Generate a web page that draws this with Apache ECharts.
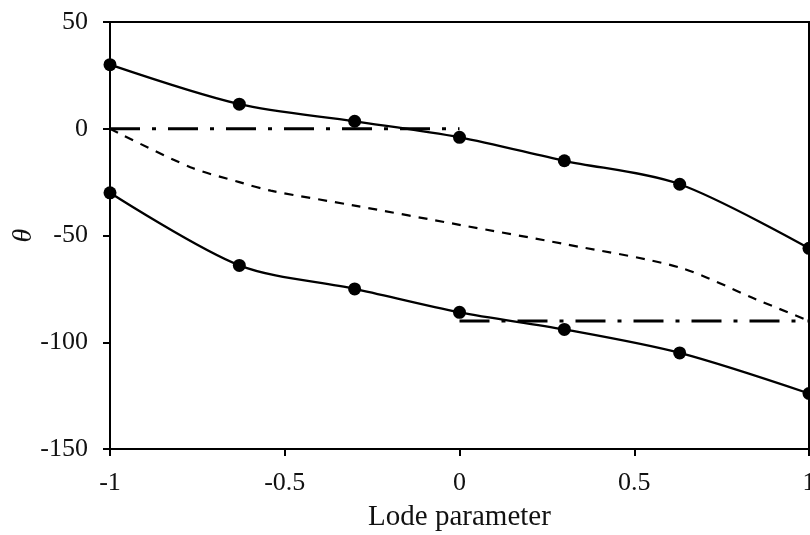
<!DOCTYPE html>
<html>
<head>
<meta charset="utf-8">
<script src="https://cdn.jsdelivr.net/npm/echarts@6/dist/echarts.min.js"></script>
<style>html,body{margin:0;padding:0;background:#fff}#c{width:810px;height:535px}</style>
</head>
<body>
<div id="c"></div>
<script>
const lodeX = [-1, -0.63, -0.3, 0, 0.3, 0.63, 1];
const upperTheta = [30, 11.5, 3.5, -4, -15, -26, -56];
const lowerTheta = [-30, -64, -75, -86, -94, -105, -124];
const dashedX = [-1, -0.77, -0.63, -0.54, -0.3, 0, 0.3, 0.63, 0.85, 1];
const dashedTheta = [0, -18, -25, -29, -36, -45, -54, -65, -80, -90];
const dashDotLeftX = [-1, 0];
const dashDotLeftTheta = [0, 0];
const dashDotRightX = [0, 1];
const dashDotRightTheta = [-90, -90];
const xTicks = [-1, -0.5, 0, 0.5, 1];
const yTicks = [-150, -100, -50, 0, 50];

const pairs = (xs, ys) => xs.map((x, i) => [x, ys[i]]);
const font = '"Liberation Serif", "DejaVu Serif", serif';

const chart = echarts.init(document.getElementById('c'), null, {renderer: 'canvas'});
chart.setOption({
  animation: false,
  backgroundColor: '#fff',
  grid: {left: 110, top: 22, right: 1, bottom: 86, containLabel: false, outerBoundsMode: 'none',
         show: true, borderColor: '#000', borderWidth: 2},
  xAxis: {
    type: 'value', min: xTicks[0], max: xTicks[xTicks.length - 1], interval: 0.5,
    name: 'Lode parameter', nameLocation: 'middle', nameGap: 54, nameMoveOverlap: false,
    nameTextStyle: {fontFamily: font, fontSize: 29, color: '#111'},
    axisLine: {onZero: false, lineStyle: {color: '#000', width: 2}},
    axisTick: {show: true, inside: false, length: 7, lineStyle: {color: '#000', width: 2}},
    axisLabel: {fontFamily: font, fontSize: 26, color: '#111', margin: 21, formatter: v => String(v)},
    splitLine: {show: false}
  },
  yAxis: {
    type: 'value', min: yTicks[0], max: yTicks[yTicks.length - 1], interval: 50,
    name: 'θ', nameLocation: 'middle', nameGap: 72, nameRotate: 90, nameMoveOverlap: false,
    nameTextStyle: {fontFamily: font, fontSize: 28, fontStyle: 'italic', color: '#111'},
    axisLine: {onZero: false, lineStyle: {color: '#000', width: 2}},
    axisTick: {show: true, inside: false, length: 7, lineStyle: {color: '#000', width: 2}},
    axisLabel: {fontFamily: font, fontSize: 26, color: '#111', margin: 22},
    splitLine: {show: false}
  },
  series: [
    {type: 'line', data: pairs(lodeX, upperTheta), smooth: 0.3, symbol: 'circle', symbolSize: 13,
     itemStyle: {color: '#000'}, lineStyle: {color: '#000', width: 2.3}, z: 5},
    {type: 'line', data: pairs(lodeX, lowerTheta), smooth: 0.3, symbol: 'circle', symbolSize: 13,
     itemStyle: {color: '#000'}, lineStyle: {color: '#000', width: 2.3}, z: 5},
    {type: 'line', data: pairs(dashedX, dashedTheta), smooth: 0.3, symbol: 'none',
     lineStyle: {color: '#000', width: 2.2, type: [9, 8]}},
    {type: 'line', data: pairs(dashDotLeftX, dashDotLeftTheta), symbol: 'none',
     lineStyle: {color: '#000', width: 3, type: [30, 12, 4, 12]}},
    {type: 'line', data: pairs(dashDotRightX, dashDotRightTheta), symbol: 'none',
     lineStyle: {color: '#000', width: 3, type: [30, 12, 4, 12]}}
  ]
});
</script>
</body>
</html>
